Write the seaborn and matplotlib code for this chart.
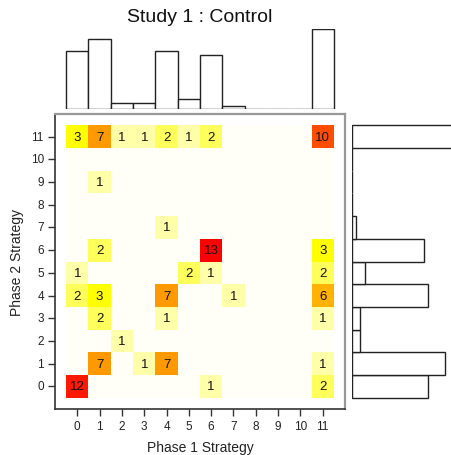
import numpy as np
import pandas as pd
import matplotlib
matplotlib.use("Agg")
import matplotlib.pyplot as plt
from matplotlib.colors import ListedColormap, hsv_to_rgb
import seaborn as sns

sns.set_style("white")
plt.rcParams['font.family'] = ['Liberation Sans', 'DejaVu Sans']

strategies = list(range(12))
# counts[phase2][phase1]; rows listed for phase 2 = 0..11
counts_rows = {
    0:  [12, 0, 0, 0, 0, 0, 1, 0, 0, 0, 0, 2],
    1:  [0, 7, 0, 1, 7, 0, 0, 0, 0, 0, 0, 1],
    2:  [0, 0, 1, 0, 0, 0, 0, 0, 0, 0, 0, 0],
    3:  [0, 2, 0, 0, 1, 0, 0, 0, 0, 0, 0, 1],
    4:  [2, 3, 0, 0, 7, 0, 0, 1, 0, 0, 0, 6],
    5:  [1, 0, 0, 0, 0, 2, 1, 0, 0, 0, 0, 2],
    6:  [0, 2, 0, 0, 0, 0, 13, 0, 0, 0, 0, 3],
    7:  [0, 0, 0, 0, 1, 0, 0, 0, 0, 0, 0, 0],
    8:  [0, 0, 0, 0, 0, 0, 0, 0, 0, 0, 0, 0],
    9:  [0, 1, 0, 0, 0, 0, 0, 0, 0, 0, 0, 0],
    10: [0, 0, 0, 0, 0, 0, 0, 0, 0, 0, 0, 0],
    11: [3, 7, 1, 1, 2, 1, 2, 0, 0, 0, 0, 10],
}
top_counts = [18, 22, 2, 2, 18, 3, 17, 1, 0, 0, 0, 25]
right_counts = [18, 22, 2, 2, 18, 3, 17, 1, 0, 0, 0, 25]

# colour levels 0..13
light = ['#FFFFF8', '#FFFFAA', '#FFFF5C']
cols = light + [hsv_to_rgb(((13 - v) / 60.0, 1.0, 1.0)) for v in range(3, 14)]
cmap = ListedColormap(cols)

rows_desc = list(range(11, -1, -1))
mat = pd.DataFrame([counts_rows[r] for r in rows_desc], index=rows_desc, columns=strategies)
annot = mat.map(lambda v: str(v) if v > 0 else "")

W, H = 452, 456
fig = plt.figure(figsize=(W / 100, H / 100), dpi=100)
ax = fig.add_axes([55 / W, 1 - 410 / H, 290 / W, 295 / H])
axt = fig.add_axes([55 / W, 1 - 110 / H, 290 / W, 80 / H])
axr = fig.add_axes([352 / W, 1 - 410 / H, 100 / W, 295 / H])

sns.heatmap(mat, ax=ax, cmap=cmap, vmin=-0.5, vmax=13.5, cbar=False,
            annot=annot.values, fmt="", linewidths=0,
            annot_kws={"color": "#111111", "fontsize": 9.5})
ax.set_xlim(-0.5, 12.5)
ax.set_ylim(12.5, -0.5)
ax.set_xticks(np.arange(12) + 0.5)
ax.set_xticklabels([str(s) for s in strategies], rotation=0)
ax.set_yticks(np.arange(12) + 0.5)
ax.set_yticklabels([str(r) for r in rows_desc], rotation=0)
ax.tick_params(axis='both', direction='out', length=5, width=1, color='#333333',
               labelsize=8.5, labelcolor='#222222', pad=3)
ax.tick_params(axis='x', bottom=True)
ax.tick_params(axis='y', left=True)
for side, spine in ax.spines.items():
    spine.set_visible(True)
    if side in ('left', 'bottom'):
        spine.set_color('#333333')
        spine.set_linewidth(1.2)
    else:
        spine.set_color('#999999')
        spine.set_linewidth(1.6)
ax.set_xlabel("Phase 1 Strategy", fontsize=10, color='#222222', labelpad=6)
ax.set_ylabel("Phase 2 Strategy", fontsize=10, color='#222222', labelpad=5)

# top marginal histogram
sns.barplot(x=strategies, y=top_counts, ax=axt, width=1.0, color='white',
            edgecolor='#222222', linewidth=1.0, saturation=1)
axt.set_xlim(-1, 12)
axt.set_ylim(0, 25)
axt.axis('off')

# right marginal histogram
sns.barplot(y=strategies, x=right_counts, ax=axr, orient='h', width=1.0, color='white',
            edgecolor='#222222', linewidth=1.0, saturation=1)
axr.set_ylim(-1, 12)
axr.set_xlim(0, 23.6)
axr.axis('off')

fig.text(200 / W, 1 - 18 / H, "Study 1 : Control", ha='center', va='center', fontsize=14, color='#111111')

fig.savefig("out.png", dpi=100)
